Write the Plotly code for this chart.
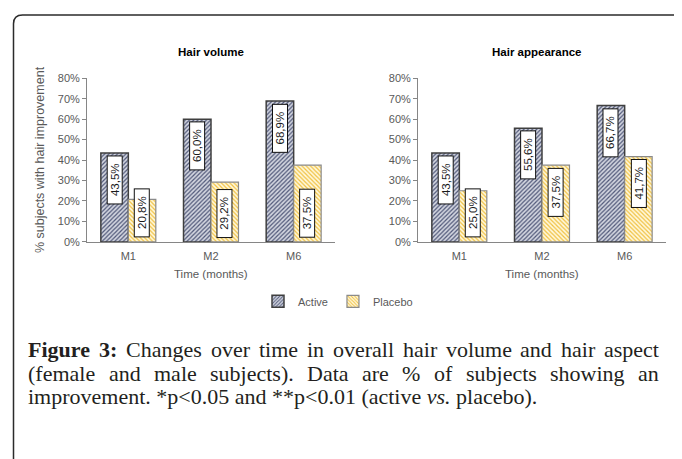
import plotly.graph_objects as go

# ---------------- data ----------------
categories = ["M1", "M2", "M6"]
volume_active = [43.5, 60.0, 68.9]
volume_placebo = [20.8, 29.2, 37.5]
appearance_active = [43.5, 55.6, 66.7]
appearance_placebo = [25.0, 37.5, 41.7]
y_tick_values = [0, 10, 20, 30, 40, 50, 60, 70, 80]
series_names = ["Active", "Placebo"]
panel_titles = ["Hair volume", "Hair appearance"]
x_title = "Time (months)"
y_title = "% subjects with hair improvement"
caption_line1 = ["Figure", "3:", "Changes", "over", "time", "in", "overall", "hair",
                 "volume", "and", "hair", "aspect"]
caption_line1_bold = 2
caption_line2 = ["(female", "and", "male", "subjects).", "Data", "are", "%", "of",
                 "subjects", "showing", "an"]
caption_line3 = "improvement. *p&lt;0.05 and **p&lt;0.01 (active <i>vs.</i> placebo)."

# label placement style per bar ("end" = inside top, "base" = inside bottom)
volume_label_modes = {"Active": ["end", "end", "end"], "Placebo": ["base", "base", "base"]}
appearance_label_modes = {"Active": ["end", "end", "end"], "Placebo": ["base", "end", "end"]}

# ---------------- geometry helpers ----------------
W, H = 682, 459
OFF = 8  # page body margin offset
def px(x):
    return (x - OFF) / W
def py(y):
    return 1 - (y - OFF) / H

SANS = "Liberation Sans"
SERIF = "Liberation Serif"
GREY = "#595959"
AXIS = "#868686"

styles = {
    "Active": dict(shape="/", fg="#4f5778", bg="#d3d6e0", line="#3f3f3f", lw=1.5),
    "Placebo": dict(shape="\\", fg="#f0c040", bg="#fff8dc", line="#8a8a8a", lw=1.2),
}

fig = go.Figure()
panels = [
    ("x", "y", volume_active, volume_placebo, volume_label_modes),
    ("x2", "y2", appearance_active, appearance_placebo, appearance_label_modes),
]
annotations = []
for pi, (xa, ya, act, pla, modes) in enumerate(panels):
    for name, vals in zip(series_names, [act, pla]):
        s = styles[name]
        fig.add_trace(go.Bar(
            x=categories, y=vals, name=name, xaxis=xa, yaxis=ya,
            legendgroup=name, showlegend=(pi == 0),
            marker=dict(
                color=s["bg"],
                pattern=dict(shape=s["shape"], fgcolor=s["fg"], bgcolor=s["bg"],
                             size=3, solidity=0.4, fillmode="replace"),
                line=dict(color=s["line"], width=s["lw"]),
            ),
            hoverinfo="skip",
        ))
        shift = -13.75 if name == "Active" else 13.75
        for i, v in enumerate(vals):
            txt = f"{v:.1f}".replace(".", ",") + "%"
            if modes[name][i] == "end":
                yv, yanc = v - 1.2, "top"
            else:
                yv, yanc = 2.0, "bottom"
            annotations.append(dict(
                x=categories[i], y=yv, xref=xa, yref=ya, xshift=shift,
                xanchor="center", yanchor=yanc, showarrow=False,
                text="\u00a0\u00a0" + txt + "\u00a0\u00a0", textangle=-90,
                font=dict(family=SANS, size=11.5, color="#1a1a1a"),
                bgcolor="white", bordercolor="#111111", borderwidth=1, borderpad=1,
            ))

# panel titles and x titles
for cx, title in zip([211, 537], panel_titles):
    annotations.append(dict(x=px(cx), y=py(47), xref="paper", yref="paper",
                            text=f"<b>{title}</b>", showarrow=False,
                            xanchor="center", yanchor="middle",
                            font=dict(family=SANS, size=11.5, color="#000000")))
for cx in [211, 542]:
    annotations.append(dict(x=px(cx), y=py(275), xref="paper", yref="paper",
                            text=x_title, showarrow=False,
                            xanchor="center", yanchor="middle",
                            font=dict(family=SANS, size=11.5, color=GREY)))
annotations.append(dict(x=px(40), y=py(158), xref="paper", yref="paper",
                        text=y_title, showarrow=False, textangle=-90,
                        xanchor="center", yanchor="middle",
                        font=dict(family=SANS, size=12.5, color=GREY)))

# ---------------- justified caption ----------------
R = {' ': 250, '(': 333, ')': 333, '*': 500, '.': 250, ':': 278, '<': 564, '%': 833,
     ',': 250, 'A': 722, 'C': 667, 'D': 722, 'F': 556,
     'a': 444, 'b': 500, 'c': 444, 'd': 500, 'e': 444, 'f': 333, 'g': 500, 'h': 500,
     'i': 278, 'j': 278, 'k': 500, 'l': 278, 'm': 778, 'n': 500, 'o': 500, 'p': 500,
     'q': 500, 'r': 333, 's': 389, 't': 278, 'u': 500, 'v': 500, 'w': 722, 'x': 500,
     'y': 500, 'z': 444}
for d in "0123456789":
    R[d] = 500
B = dict(R)
B.update({'F': 611, 'u': 556, 'r': 444, ':': 333})
CAP_SIZE = 22
CAP_COLOR = "#231f20"

def wwidth(word, table):
    return sum(table.get(c, 500) for c in word) / 1000 * CAP_SIZE

def justify(words, nbold, x0, x1, yc):
    tables = [B if k < nbold else R for k in range(len(words))]
    widths = [wwidth(w, t) for w, t in zip(words, tables)]
    gap = (x1 - x0 - sum(widths)) / (len(words) - 1)
    x = x0
    for k, (w, wd) in enumerate(zip(words, widths)):
        t = f"<b>{w}</b>" if k < nbold else w
        annotations.append(dict(x=px(x), y=py(yc), xref="paper", yref="paper",
                                text=t, showarrow=False, xanchor="left",
                                yanchor="middle", borderpad=0,
                                font=dict(family=SERIF, size=CAP_SIZE, color=CAP_COLOR)))
        x += wd + gap

justify(caption_line1, caption_line1_bold, 27, 658, 353)
justify(caption_line2, 0, 27, 658, 377)
annotations.append(dict(x=px(27), y=py(401), xref="paper", yref="paper",
                        text=caption_line3, showarrow=False, xanchor="left",
                        yanchor="middle", borderpad=0,
                        font=dict(family=SERIF, size=CAP_SIZE, color=CAP_COLOR)))

# ---------------- frame ----------------
r = 9
x0, yt = 13.5, 9
frame_path = (f"M {px(x0)},{py(H + 20)} L {px(x0)},{py(yt + r)} "
              f"Q {px(x0)},{py(yt)} {px(x0 + r)},{py(yt)} L {px(W + 20)},{py(yt)}")

axis_common = dict(showline=True, linecolor=AXIS, linewidth=1, showgrid=False,
                   zeroline=False, tickfont=dict(family=SANS, size=11, color=GREY))
yaxis_common = dict(axis_common, range=[0, 80], tickvals=y_tick_values,
                    ticktext=[f"{v}%" for v in y_tick_values],
                    ticks="outside", ticklen=4, tickcolor=AXIS,
                    domain=[py(242), py(74)])
xaxis_common = dict(axis_common, ticks="", type="category", ticklabelstandoff=4)

fig.update_layout(
    width=W, height=H, autosize=False,
    margin=dict(l=0, r=0, t=0, b=0),
    paper_bgcolor="white", plot_bgcolor="white",
    barmode="group", bargap=0.335, bargroupgap=0,
    xaxis=dict(xaxis_common, domain=[px(87), px(335)], anchor="y"),
    yaxis=dict(yaxis_common, anchor="x"),
    xaxis2=dict(xaxis_common, domain=[px(418), px(666)], anchor="y2"),
    yaxis2=dict(yaxis_common, anchor="x2"),
    legend=dict(orientation="h", x=px(338), y=py(303), xanchor="center",
                yanchor="middle", font=dict(family=SANS, size=11, color=GREY),
                itemwidth=30, bgcolor="rgba(0,0,0,0)", traceorder="normal"),
    annotations=annotations,
    shapes=[dict(type="path", path=frame_path, xref="paper", yref="paper",
                 line=dict(color="#2b2b2b", width=1.5))],
)

fig.write_html("out.html")
